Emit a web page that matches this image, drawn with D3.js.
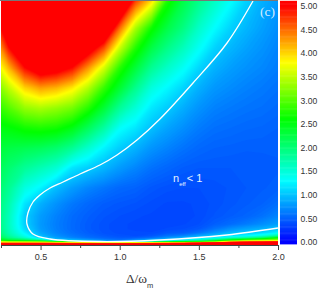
<!DOCTYPE html>
<html>
<head>
<meta charset="utf-8">
<script src="https://cdn.jsdelivr.net/npm/d3@7"></script>
<style>
html, body { margin: 0; padding: 0; background: #fff; }
svg { display: block; }
.tick text { font-family: "Liberation Sans", Arial, sans-serif; fill: #333; }
</style>
</head>
<body>
<div id="chart"></div>
<script>
// detuning samples (columns of the map)
const detuning = [0.25, 0.3, 0.4, 0.5, 0.6, 0.7, 0.8, 0.9, 1.0, 1.1, 1.2, 1.3, 1.4, 1.5, 1.6, 1.7, 1.8, 1.9, 2.0];
// height above the axis, the y axis has no labels in the picture
const heights = [243, 216, 196, 176, 156, 136, 116, 96, 76, 56, 40, 28, 20, 15, 11, 8, 6, 4, 3, 2, 1, -1];

// n_eff, one line per detuning, top to bottom
const nEff = [
	[6.5, 5.0, 4.35, 3.77, 3.25, 2.85, 2.52, 2.3, 2.14, 2.0, 1.92, 1.88, 1.88, 1.9, 1.95, 2.05, 2.2, 2.5, 2.9, 3.8, 4.4, 6],
	[7.5, 5.9, 4.95, 4.15, 3.5, 3.0, 2.56, 2.25, 2.03, 1.85, 1.72, 1.65, 1.63, 1.65, 1.7, 1.8, 1.95, 2.3, 2.7, 3.6, 4.4, 6],
	[9.5, 7.3, 6, 4.95, 4.0, 3.3, 2.68, 2.2, 1.83, 1.45, 1.17, 1.05, 1.06, 1.12, 1.25, 1.4, 1.6, 2.1, 2.6, 3.5, 4.4, 6],
	[10, 8, 6.6, 5.4, 4.25, 3.4, 2.73, 2.15, 1.68, 1.25, 0.9, 0.8, 0.78, 0.8, 0.87, 0.97, 1.1, 1.7, 2.4, 3.4, 4.4, 6],
	[10, 8, 6.5, 5.25, 4.15, 3.3, 2.68, 2.05, 1.52, 0.96, 0.74, 0.66, 0.64, 0.65, 0.68, 0.75, 0.85, 1.05, 1.7, 3.0, 4.3, 6],
	[9.5, 7.3, 6, 4.95, 3.9, 3.15, 2.5, 1.85, 1.17, 0.8, 0.61, 0.55, 0.54, 0.54, 0.57, 0.62, 0.7, 0.97, 1.6, 3, 4.2, 6],
	[8.5, 6.6, 5.35, 4.3, 3.45, 2.78, 2.15, 1.55, 1.05, 0.68, 0.53, 0.48, 0.46, 0.46, 0.48, 0.53, 0.59, 0.8, 1.02, 2.6, 4.2, 6],
	[7.7, 5.85, 4.65, 3.6, 2.85, 2.33, 1.78, 1.25, 0.93, 0.6, 0.47, 0.43, 0.41, 0.41, 0.42, 0.46, 0.52, 0.68, 0.9, 1.1, 4.2, 6],
	[6.1, 4.5, 3.55, 2.78, 2.35, 1.83, 1.33, 1.05, 0.79, 0.53, 0.44, 0.4, 0.38, 0.38, 0.39, 0.42, 0.47, 0.58, 0.75, 1.05, 4.2, 6],
	[4.7, 3.4, 2.75, 2.3, 1.88, 1.5, 1.18, 0.91, 0.68, 0.5, 0.42, 0.38, 0.37, 0.37, 0.38, 0.4, 0.5, 0.75, 0.94, 1.2, 4.2, 6],
	[3.95, 2.67, 2.25, 1.85, 1.47, 1.19, 0.98, 0.76, 0.58, 0.44, 0.39, 0.37, 0.36, 0.36, 0.38, 0.45, 0.6, 0.95, 1.15, 2, 4.3, 6],
	[2.72, 2.25, 1.92, 1.58, 1.27, 1.04, 0.84, 0.67, 0.52, 0.41, 0.37, 0.36, 0.36, 0.38, 0.45, 0.6, 0.8, 1.03, 1.35, 2.6, 4.4, 6],
	[2.25, 1.95, 1.65, 1.35, 1.09, 0.89, 0.73, 0.59, 0.47, 0.4, 0.37, 0.36, 0.37, 0.4, 0.48, 0.7, 0.95, 1.25, 1.7, 2.8, 4.6, 6],
	[1.9, 1.58, 1.35, 1.1, 0.9, 0.75, 0.63, 0.53, 0.45, 0.4, 0.38, 0.38, 0.4, 0.45, 0.6, 0.88, 1.1, 1.55, 2, 3, 5, 6],
	[1.6, 1.3, 1.08, 0.91, 0.77, 0.66, 0.57, 0.5, 0.45, 0.41, 0.41, 0.43, 0.48, 0.6, 0.78, 1.0, 1.3, 1.95, 2.5, 3.4, 5.2, 6],
	[1.32, 1.08, 0.93, 0.81, 0.71, 0.62, 0.55, 0.49, 0.45, 0.43, 0.44, 0.47, 0.55, 0.74, 0.95, 1.18, 1.6, 2.5, 3.2, 4.5, 5.5, 6],
	[1.07, 0.93, 0.83, 0.74, 0.66, 0.59, 0.53, 0.48, 0.45, 0.45, 0.47, 0.51, 0.63, 0.84, 1.03, 1.3, 1.8, 2.9, 3.7, 4.9, 5.5, 6],
	[0.9, 0.82, 0.75, 0.69, 0.62, 0.57, 0.52, 0.48, 0.46, 0.47, 0.5, 0.58, 0.72, 0.92, 1.12, 1.5, 2.1, 3.1, 3.8, 5, 5.5, 6],
	[0.78, 0.72, 0.67, 0.63, 0.58, 0.54, 0.5, 0.48, 0.47, 0.49, 0.57, 0.68, 0.82, 1.03, 1.28, 1.85, 2.6, 3.3, 3.9, 5.1, 5.5, 6]
];

// the white n_eff = 1 line, [detuning, height]
const unitLine = [
	[1.842, 243], [1.678, 201], [1.463, 161], [1.254, 125], [1.109, 104], [0.983, 89], [0.875, 79], [0.749, 70], [0.642, 62], [0.56, 56],
	[0.496, 49], [0.452, 42], [0.42, 31], [0.414, 20], [0.452, 10], [0.56, 5], [0.875, 2.5], [1.254, 4], [1.678, 9], [2.0, 16]
];

const colorStops = [0, 1.3, 2.6, 3.8, 5];
const colorValues = ["#0000ff", "#00ffff", "#00ff00", "#ffff00", "#ff0000"];
const majorTicks = [0.5, 1.0, 1.5, 2.0];
const minorTicks = [0.25, 0.75, 1.25, 1.75];
const barTicks = [0, 0.5, 1, 1.5, 2, 2.5, 3, 3.5, 4, 4.5, 5];

const width = 320, height = 291;
const plot = {left: 1, right: 278, top: 1, bottom: 245};

var svg = d3.select("#chart").append("svg")
	.attr("width", width)
	.attr("height", height);

var x = d3.scaleLinear().domain([0.25, 2]).range([plot.left, plot.right]);
var y = d3.scaleLinear().domain([-1, 243]).range([plot.bottom, plot.top]);
var color = d3.scaleLinear().domain(colorStops).range(colorValues).clamp(true);

// contour coordinates -> data -> pixels, the grid is not even
var colIndex = d3.scaleLinear().domain(detuning.map((d, i) => i + 0.5)).range(detuning).clamp(true);
var rowIndex = d3.scaleLinear().domain(heights.map((d, i) => i + 0.5)).range(heights).clamp(true);
var path = d3.geoPath(d3.geoTransform({
	point: function(i, j) { this.stream.point(x(colIndex(i)), y(rowIndex(j))); }
}));

var flat = [];
heights.forEach((h, j) => detuning.forEach((d, i) => flat.push(nEff[i][j])));

var levels = d3.range(0.3, 5.0001, 0.025);
var contours = d3.contours().size([detuning.length, heights.length]).thresholds(levels)(flat);

svg.append("defs").append("clipPath").attr("id", "plot-clip")
	.append("rect")
	.attr("x", plot.left).attr("y", plot.top)
	.attr("width", plot.right - plot.left).attr("height", plot.bottom - plot.top);

var map = svg.append("g").attr("clip-path", "url(#plot-clip)");
map.append("rect")
	.attr("x", plot.left).attr("y", plot.top)
	.attr("width", plot.right - plot.left).attr("height", plot.bottom - plot.top)
	.attr("fill", color(0.3));
map.selectAll("path.level")
	.data(contours)
  .enter().append("path")
	.attr("class", "level")
	.attr("d", path)
	.attr("fill", (d) => color(d.value + 0.0125));

map.append("path")
	.datum(unitLine)
	.attr("fill", "none")
	.attr("stroke", "#fff")
	.attr("stroke-width", 1.3)
	.attr("d", d3.line().x((d) => x(d[0])).y((d) => y(d[1])).curve(d3.curveCatmullRom.alpha(0.5)));

// frame
svg.append("line").attr("x1", 0).attr("x2", plot.right).attr("y1", 0.5).attr("y2", 0.5)
	.attr("stroke", "#777").attr("stroke-width", 1);

// x axis
var xMajor = d3.axisBottom(x).tickValues(majorTicks).tickSize(5).tickSizeOuter(0).tickPadding(3.5).tickFormat(d3.format(".1f"));
var xMinor = d3.axisBottom(x).tickValues(minorTicks).tickSize(3).tickSizeOuter(0).tickFormat("");
svg.append("g")
	.attr("transform", "translate(0," + plot.bottom + ")")
	.call(xMinor)
	.call((g) => g.selectAll("line,path").attr("stroke", "#444"));
svg.append("g")
	.attr("transform", "translate(0," + plot.bottom + ")")
	.call(xMajor)
	.call((g) => g.selectAll("line,path").attr("stroke", "#444"))
	.call((g) => g.selectAll("text").style("font-size", "9px"));

// colour bar
var barScale = d3.scaleLinear().domain([0, 5]).range([242, 6]);
var barX = 280, barW = 17;
var barSteps = d3.range(-0.04, 5.1, 0.025);
svg.append("g").selectAll("rect")
	.data(barSteps)
  .enter().append("rect")
	.attr("x", barX)
	.attr("width", barW)
	.attr("y", (d) => barScale(d + 0.025))
	.attr("height", (d) => barScale(d) - barScale(d + 0.025) + 0.5)
	.attr("fill", (d) => color(d));
svg.append("g")
	.attr("transform", "translate(" + (barX + barW) + ",0)")
	.call(d3.axisRight(barScale).tickValues(barTicks).tickSize(0).tickPadding(3.5).tickFormat(d3.format(".2f")))
	.call((g) => g.select("path").remove())
	.call((g) => g.selectAll("text").style("font-size", "8.6px"));

// labels
var xLabel = svg.append("text")
	.attr("x", 126).attr("y", 283)
	.attr("fill", "#333")
	.attr("font-family", "'Liberation Serif', 'Times New Roman', serif")
	.attr("font-size", 13.3)
	.text("Δ/ω");
xLabel.append("tspan")
	.attr("dy", 4.5)
	.attr("font-family", "'Liberation Sans', Arial, sans-serif")
	.attr("font-size", 7.5)
	.text("m");

var nLabel = svg.append("text")
	.attr("x", 173).attr("y", 182)
	.attr("fill", "#e4f2ff")
	.attr("font-family", "'Liberation Sans', Arial, sans-serif")
	.attr("font-size", 11)
	.text("n");
nLabel.append("tspan").attr("dy", 4).attr("font-size", 6).text("eff");
nLabel.append("tspan").attr("dy", -4).attr("dx", 1).text("< 1");

svg.append("text")
	.attr("x", 260).attr("y", 16)
	.attr("fill", "#d5ecff")
	.attr("font-family", "'Liberation Serif', 'Times New Roman', serif")
	.attr("font-size", 13.5)
	.text("(c)");
</script>
</body>
</html>
